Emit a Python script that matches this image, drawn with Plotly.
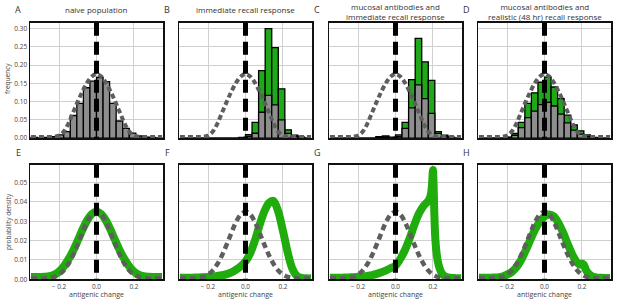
import plotly.graph_objects as go

# ---------------- data ----------------
BIN_WIDTH = 0.035
BIN_CENTERS = [-0.3325, -0.2975, -0.2625, -0.2275, -0.1925, -0.1575, -0.1225, -0.0875, -0.0525, -0.0175,
               0.0175, 0.0525, 0.0875, 0.1225, 0.1575, 0.1925, 0.2275, 0.2625, 0.2975, 0.3325]

A_GRAY = [0.002, 0.001, 0.002, 0.004, 0.009, 0.018, 0.062, 0.095, 0.138, 0.156,
          0.166, 0.155, 0.095, 0.047, 0.027, 0.014, 0.006, 0.003, 0.002, 0.001]
B_GREEN = [0, 0, 0, 0, 0, 0, 0, 0, 0, 0.002,
           0.010, 0.043, 0.185, 0.300, 0.248, 0.135, 0.023, 0.008, 0.003, 0]
B_GRAY = [0, 0, 0, 0, 0, 0, 0, 0, 0, 0.001,
          0.005, 0.0135, 0.071, 0.117, 0.091, 0.050, 0.013, 0.005, 0.002, 0]
C_GREEN = [0, 0, 0, 0, 0, 0, 0, 0.004, 0.006, 0.003,
           0.009, 0.043, 0.160, 0.273, 0.209, 0.158, 0.018, 0.008, 0.003, 0]
C_GRAY = [0, 0, 0, 0, 0, 0, 0, 0.002, 0.003, 0.001,
          0.004, 0.027, 0.083, 0.146, 0.108, 0.068, 0.013, 0.004, 0.001, 0]
D_GREEN = [0, 0, 0, 0, 0.003, 0.013, 0.043, 0.095, 0.124, 0.153,
           0.167, 0.140, 0.108, 0.063, 0.036, 0.020, 0.009, 0.002, 0, 0]
D_GRAY = [0, 0, 0, 0, 0.002, 0.008, 0.029, 0.056, 0.074, 0.092,
          0.098, 0.088, 0.066, 0.042, 0.022, 0.011, 0.004, 0.001, 0, 0]

GRID = [-0.35, -0.325, -0.3, -0.275, -0.25, -0.225, -0.2, -0.175, -0.15, -0.125, -0.1, -0.075, -0.05, -0.025,
        0.0, 0.025, 0.05, 0.075, 0.1, 0.125, 0.15, 0.175, 0.2, 0.225, 0.25, 0.275, 0.3, 0.325, 0.35]

NAIVE_FREQ = [0.003, 0.003, 0.003, 0.003, 0.003, 0.004, 0.007, 0.018, 0.040, 0.070, 0.100, 0.128, 0.152, 0.169,
              0.176, 0.169, 0.152, 0.128, 0.100, 0.070, 0.040, 0.018, 0.007, 0.004, 0.003, 0.003, 0.003, 0.003, 0.003]
NAIVE_DENS = [0.0005, 0.0005, 0.0005, 0.0005, 0.0008, 0.0013, 0.0025, 0.0046, 0.0079, 0.0125, 0.0181, 0.0241, 0.0297, 0.0336,
              0.0350, 0.0336, 0.0297, 0.0241, 0.0181, 0.0125, 0.0079, 0.0046, 0.0025, 0.0013, 0.0008, 0.0005, 0.0005, 0.0005, 0.0005]
E_DENS = [0.0012, 0.0012, 0.0012, 0.0013, 0.0016, 0.0024, 0.0040, 0.0066, 0.0103, 0.0148, 0.0201, 0.0256, 0.0305, 0.0338,
          0.0350, 0.0338, 0.0305, 0.0256, 0.0201, 0.0148, 0.0103, 0.0066, 0.0040, 0.0024, 0.0016, 0.0013, 0.0012, 0.0012, 0.0012]
F_DENS = [0.0008, 0.0008, 0.0008, 0.0009, 0.0010, 0.0011, 0.0012, 0.0014, 0.0017, 0.0021, 0.0027, 0.0036, 0.0050, 0.0068,
          0.0093, 0.0135, 0.0200, 0.0280, 0.0350, 0.0395, 0.0405, 0.0350, 0.0250, 0.0140, 0.0055, 0.0017, 0.0007, 0.0005, 0.0005]
G_X = [-0.35, -0.325, -0.3, -0.275, -0.25, -0.225, -0.2, -0.175, -0.15, -0.125, -0.1, -0.075, -0.05, -0.025,
       0.0, 0.025, 0.05, 0.075, 0.1, 0.125, 0.15, 0.175, 0.185, 0.19, 0.195, 0.2, 0.203, 0.207, 0.212, 0.22,
       0.23, 0.24, 0.25, 0.265, 0.28, 0.3, 0.325, 0.35]
G_DENS = [0.0008, 0.0008, 0.0008, 0.0009, 0.0010, 0.0011, 0.0013, 0.0015, 0.0018, 0.0022, 0.0028, 0.0036, 0.0046, 0.0058,
          0.0070, 0.0105, 0.0150, 0.0210, 0.0280, 0.0340, 0.0380, 0.0405, 0.0425, 0.0445, 0.0490, 0.0565, 0.0500, 0.0350,
          0.0220, 0.0130, 0.0075, 0.0045, 0.0028, 0.0015, 0.0010, 0.0007, 0.0006, 0.0005]
H_X = [-0.35, -0.325, -0.3, -0.275, -0.25, -0.225, -0.2, -0.175, -0.15, -0.125, -0.1, -0.075, -0.05, -0.025,
       0.0, 0.025, 0.05, 0.075, 0.1, 0.125, 0.15, 0.175, 0.19, 0.2, 0.21, 0.225, 0.25, 0.275, 0.3, 0.325, 0.35]
H_DENS = [0.0008, 0.0008, 0.0008, 0.0009, 0.0010, 0.0014, 0.0024, 0.0038, 0.0062, 0.0100, 0.0150, 0.0205, 0.0258, 0.0298,
          0.0325, 0.0335, 0.0325, 0.0290, 0.0240, 0.0180, 0.0125, 0.0085, 0.0075, 0.0082, 0.0075, 0.0042, 0.0018, 0.0010,
          0.0008, 0.0007, 0.0007]

REF_X = 0.0
TITLES = ["naive population", "immediate recall response",
          "mucosal antibodies and<br>immediate recall response",
          "mucosal antibodies and<br>realistic (48 hr) recall response"]
LETTERS_TOP = ["A", "B", "C", "D"]
LETTERS_BOT = ["E", "F", "G", "H"]
X_TICKS = [-0.2, 0.0, 0.2]
X_TICKTEXT = ["\u2212 0.2", "0.0", "0.2"]
Y_TOP_TICKS = [0.0, 0.05, 0.10, 0.15, 0.20, 0.25, 0.30]
Y_TOP_TEXT = ["0.00", "0.05", "0.10", "0.15", "0.20", "0.25", "0.30"]
Y_BOT_TICKS = [0.0, 0.01, 0.02, 0.03, 0.04, 0.05]
Y_BOT_TEXT = ["0.00", "0.01", "0.02", "0.03", "0.04", "0.05"]

# ---------------- style ----------------
W, H = 617, 308
GREEN_BAR = "#1fa81a"
GREEN_LINE = "#1fac0c"
GRAY_BAR = "#8e8e8e"
GRAY_DASH = "#5e5e5e"
FONT = "Open Sans"
TXT = "#333333"

panels_px = [(30, 163), (179, 312), (329, 462), (478, 611)]
top_px = (23, 140)
bot_px = (167, 283)

def xd(p):
    return (p[0] / W, p[1] / W)

def yd(p):
    return (1 - p[1] / H, 1 - p[0] / H)

fig = go.Figure()

def bars(vals, color, idx):
    fig.add_trace(go.Bar(x=BIN_CENTERS, y=vals, width=BIN_WIDTH,
                         marker=dict(color=color, line=dict(color="black", width=1.3)),
                         xaxis=f"x{idx}", yaxis=f"y{idx}", showlegend=False, hoverinfo="skip"))

def curve(x, y, color, width, dash, idx, smoothing=1.0):
    fig.add_trace(go.Scatter(x=x, y=y, mode="lines",
                             line=dict(color=color, width=width, dash=dash, shape="spline", smoothing=smoothing),
                             xaxis=f"x{idx}", yaxis=f"y{idx}", showlegend=False, hoverinfo="skip"))

# top row
bars(A_GRAY, GRAY_BAR, 1)
curve(GRID, NAIVE_FREQ, GRAY_DASH, 4, "5px,3px", 1)
for i, (g, gr) in enumerate([(B_GREEN, B_GRAY), (C_GREEN, C_GRAY), (D_GREEN, D_GRAY)], start=2):
    bars(g, GREEN_BAR, i)
    bars(gr, GRAY_BAR, i)
    curve(GRID, NAIVE_FREQ, GRAY_DASH, 4, "5px,3px", i)

# bottom row
for i, (gx, gy) in enumerate([(GRID, E_DENS), (GRID, F_DENS), (G_X, G_DENS), (H_X, H_DENS)], start=5):
    curve(gx, gy, GREEN_LINE, 8, "solid", i, 0.8)
    curve(GRID, NAIVE_DENS, GRAY_DASH, 4.5, "6px,4px", i)

layout = dict(width=W, height=H, margin=dict(l=0, r=0, t=0, b=0),
              paper_bgcolor="white", plot_bgcolor="white", barmode="overlay",
              font=dict(family=FONT, size=7, color=TXT), showlegend=False)

axis_common = dict(showgrid=True, gridcolor="#d0d0d0", gridwidth=1, zeroline=False,
                   showline=True, linecolor="#111111", linewidth=1.5, mirror=True, ticks="",
                   tickfont=dict(family=FONT, size=6.5, color="#444444"))
annotations = []
shapes = []
for r in range(2):
    for c in range(4):
        idx = r * 4 + c + 1
        sx = "" if idx == 1 else str(idx)
        rows_px = top_px if r == 0 else bot_px
        layout[f"xaxis{sx}"] = dict(axis_common, domain=xd(panels_px[c]), range=[-0.355, 0.355],
                                    tickvals=X_TICKS, ticktext=X_TICKTEXT, showticklabels=(r == 1),
                                    anchor=f"y{sx}", fixedrange=True)
        if r == 0:
            yr = [0, 0.316]
            tv, tt = Y_TOP_TICKS, Y_TOP_TEXT
        else:
            yr = [0, 0.0592]
            tv, tt = Y_BOT_TICKS, Y_BOT_TEXT
        layout[f"yaxis{sx}"] = dict(axis_common, domain=yd(rows_px), range=yr, tickvals=tv, ticktext=tt,
                                    showticklabels=(c == 0), anchor=f"x{sx}", fixedrange=True)
        shapes.append(dict(type="line", xref=f"x{sx}" if sx else "x", yref=f"y{sx} domain" if sx else "y domain",
                           x0=REF_X, x1=REF_X, y0=1, y1=0, layer="above",
                           line=dict(color="black", width=5, dash="13px,6px")))
        letter = LETTERS_TOP[c] if r == 0 else LETTERS_BOT[c]
        ly = 10 if r == 0 else 155
        annotations.append(dict(text=letter, x=(panels_px[c][0] - 12) / W, y=1 - ly / H, xref="paper", yref="paper",
                                showarrow=False, xanchor="center", yanchor="middle",
                                font=dict(family=FONT, size=9, color=TXT)))
        if r == 1:
            annotations.append(dict(text="antigenic change", x=(panels_px[c][0] + panels_px[c][1]) / 2 / W,
                                    y=1 - 298 / H, xref="paper", yref="paper", showarrow=False,
                                    xanchor="center", yanchor="middle", font=dict(family=FONT, size=7, color="#444444")))

for c in range(4):
    two = "<br>" in TITLES[c]
    annotations.append(dict(text=TITLES[c], x=(panels_px[c][0] + panels_px[c][1]) / 2 / W,
                            y=1 - (12 if two else 10) / H, xref="paper", yref="paper", showarrow=False,
                            xanchor="center", yanchor="middle", borderpad=0,
                            font=dict(family=FONT, size=8, color=TXT)))

annotations.append(dict(text="frequency", x=8 / W, y=1 - 80 / H, xref="paper", yref="paper", showarrow=False,
                        textangle=-90, xanchor="center", yanchor="middle", font=dict(family=FONT, size=6.5, color="#444444")))
annotations.append(dict(text="probability density", x=8 / W, y=1 - 225 / H, xref="paper", yref="paper", showarrow=False,
                        textangle=-90, xanchor="center", yanchor="middle", font=dict(family=FONT, size=6.5, color="#444444")))

layout["annotations"] = annotations
layout["shapes"] = shapes
fig.update_layout(**layout)
fig.write_html("out.html", config={"displayModeBar": False, "staticPlot": True},
               post_script="document.body.style.margin='0';document.body.style.padding='0';")
